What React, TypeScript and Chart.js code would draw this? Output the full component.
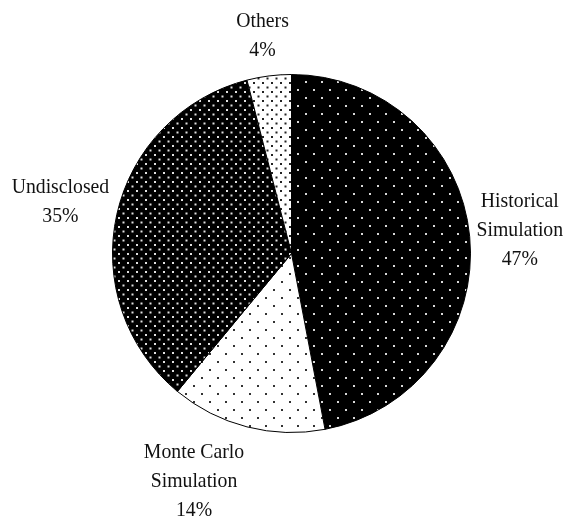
import React, { useEffect, useRef } from "react";
import { Chart, registerables } from "chart.js";

Chart.register(...registerables);

const categories = ["Historical Simulation", "Monte Carlo Simulation", "Undisclosed", "Others"];
const labelLines = [["Historical", "Simulation"], ["Monte Carlo", "Simulation"], ["Undisclosed"], ["Others"]];
const shares = [47, 14, 35, 4];

const LABEL_NUDGE = [[-3, -1], [-38, 3], [1, -4], [-2, -1]];

function makePattern(tile: number, bg: string, dot: string, dotSize: number) {
  const c = document.createElement("canvas");
  c.width = tile;
  c.height = tile;
  const g = c.getContext("2d")!;
  g.fillStyle = bg;
  g.fillRect(0, 0, tile, tile);
  g.fillStyle = dot;
  const h = tile / 2;
  g.fillRect(1, 1, dotSize, dotSize);
  g.fillRect(1 + h, 1 + h, dotSize, dotSize);
  const ctx = document.createElement("canvas").getContext("2d")!;
  return ctx.createPattern(c, "repeat")!;
}

const labelPlugin = {
  id: "outerLabels",
  afterDraw(chart: any) {
    const ctx = chart.ctx as CanvasRenderingContext2D;
    const meta = chart.getDatasetMeta(0);
    const data = chart.data.datasets[0].data as number[];
    const lineH = 29;
    ctx.save();
    ctx.font = '21px "Liberation Serif", "Times New Roman", serif';
    ctx.fillStyle = "#111";
    ctx.textAlign = "center";
    ctx.textBaseline = "middle";
    const sx = 0.94;
    meta.data.forEach((arc: any, i: number) => {
      const lines = [...labelLines[i], data[i] + "%"];
      const w = Math.max(...lines.map((l) => ctx.measureText(l).width)) * sx;
      const h = lines.length * lineH;
      const a = (arc.startAngle + arc.endAngle) / 2;
      const dx = Math.cos(a);
      const dy = Math.sin(a);
      const r = arc.outerRadius + 10;
      const cx = arc.x + dx * r + (dx * w) / 2 + LABEL_NUDGE[i][0];
      const cy = arc.y + dy * r + (dy * h) / 2 + LABEL_NUDGE[i][1];
      lines.forEach((l, k) => {
        const y = cy - h / 2 + lineH / 2 + k * lineH;
        ctx.save();
        ctx.translate(cx, y);
        ctx.scale(sx, 1);
        ctx.fillText(l, 0, 0);
        ctx.restore();
      });
    });
    ctx.restore();
  },
};

export default function App() {
  const ref = useRef<HTMLCanvasElement>(null);
  useEffect(() => {
    const patterns = [
      makePattern(16, "#000", "#d8d8d8", 2),
      makePattern(16, "#fff", "#333", 2),
      makePattern(9, "#000", "#e0e0e0", 2),
      makePattern(9, "#fff", "#222", 2),
    ];
    const chart = new Chart(ref.current!, {
      type: "pie",
      data: {
        labels: categories,
        datasets: [
          {
            data: shares,
            backgroundColor: patterns as any,
            borderColor: "#000",
            borderWidth: 1,
          },
        ],
      },
      options: {
        responsive: false,
        animation: false,
        layout: { padding: { left: 110, right: 93, top: 74, bottom: 85 } },
        plugins: { legend: { display: false }, tooltip: { enabled: false } },
      },
      plugins: [labelPlugin],
    });
    return () => chart.destroy();
  }, []);
  return (
    <div style={{ position: "absolute", left: 0, top: 0, width: 566, height: 518, background: "#fff" }}>
      <canvas ref={ref} width={566} height={518} />
    </div>
  );
}
